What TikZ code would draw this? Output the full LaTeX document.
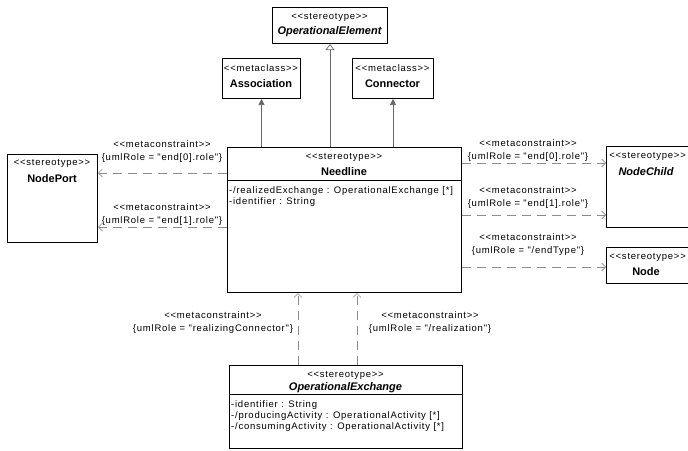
\documentclass[tikz,border=0pt]{standalone}
\usepackage{fontspec}
\setmainfont{Liberation Sans}
\newfontfamily\spacedfont{Liberation Sans}[LetterSpace=8]
\usetikzlibrary{arrows.meta,positioning}

\newcommand{\guil}[1]{<{}<#1>{}>}

\begin{document}
\begin{tikzpicture}[x=1pt, y=-1pt,
    every node/.style={inner sep=0pt, font=\spacedfont\fontsize{9.5}{10}\selectfont},
    box/.style={draw, line width=1pt, anchor=north west},
    stereo/.style={font=\spacedfont\fontsize{9.5}{10}\selectfont},
    title/.style={font=\fontsize{11}{12}\selectfont\bfseries},
    ititle/.style={font=\fontsize{11}{12}\selectfont\bfseries\itshape},
    attr/.style={anchor=west, font=\spacedfont\fontsize{9.5}{10}\selectfont},
    lab/.style={align=center, font=\spacedfont\fontsize{9.5}{13}\selectfont},
    link/.style={draw=black!60, line width=0.7pt},
    meta/.style={draw=black!45, line width=0.7pt, dash pattern=on 9pt off 6pt, -{Straight Barb[length=4pt, width=8pt]}},
    >=stealth]
    \useasboundingbox (0,0) rectangle (688,450);

    % boxes
    \node[box, minimum width=115pt, minimum height=36pt] (opelem) at (272,7) {};
    \node[stereo] (opelemS) at (329.5,17) {\guil{stereotype}};
    \node[ititle] (opelemN) at (329.5,32) {OperationalElement};

    \node[box, minimum width=78pt, minimum height=40pt] (assoc) at (222,58) {};
    \node[stereo] (assocS) at (261,68) {\guil{metaclass}};
    \node[title] (assocN) at (261,84) {Association};

    \node[box, minimum width=81pt, minimum height=40pt] (conn) at (352,58) {};
    \node[stereo] (connS) at (392.5,68) {\guil{metaclass}};
    \node[title] (connN) at (392.5,84) {Connector};

    \node[box, minimum width=234pt, minimum height=145pt] (need) at (227,147) {};
    \node[stereo] (needS) at (344,157) {\guil{stereotype}};
    \node[title] (needN) at (344,172) {Needline};
    \draw (need.west |- 0,180) -- (need.east |- 0,180);
    \node[attr] (needA1) at (229,191) {-/realizedExchange : OperationalExchange [*]};
    \node[attr] (needA2) at (229,202) {-identifier : String};

    \node[box, minimum width=90pt, minimum height=88pt] (nodeport) at (7,154) {};
    \node[stereo] (nodeportS) at (52,163) {\guil{stereotype}};
    \node[title] (nodeportN) at (52,179) {NodePort};

    \node[box, minimum width=92pt, minimum height=81pt] (nodechild) at (606,146) {};
    \node[stereo, anchor=east] (nodechildS) at (686,156) {\guil{stereotype}};
    \node[ititle] (nodechildN) at (646,172) {NodeChild};

    \node[box, minimum width=92pt, minimum height=36pt] (node) at (606,247) {};
    \node[stereo, anchor=east] (nodeS) at (686,257) {\guil{stereotype}};
    \node[title] (nodeN) at (646,272) {Node};

    \node[box, minimum width=233pt, minimum height=83pt] (opex) at (229,365) {};
    \node[stereo] (opexS) at (345.5,375) {\guil{stereotype}};
    \node[ititle] (opexN) at (345.5,388) {OperationalExchange};
    \draw (opex.west |- 0,394) -- (opex.east |- 0,394);
    \node[attr] (opexA1) at (231,405) {-identifier : String};
    \node[attr] (opexA2) at (231,416) {-/producingActivity : OperationalActivity [*]};
    \node[attr] (opexA3) at (231,427) {-/consumingActivity : OperationalActivity [*]};

    % connectors
    \draw[link, -{Triangle[open, length=6pt, width=9pt]}] (opelem.south |- need.north) -- (opelem.south);
    \draw[link, -{Triangle[length=6pt, width=6pt]}] (assoc.south |- need.north) -- (assoc.south);
    \draw[link, -{Triangle[length=6pt, width=6pt]}] (conn.south |- need.north) -- (conn.south);

    \coordinate (l1) at (0,173);
    \coordinate (l2) at (0,227);
    \coordinate (r1) at (0,163);
    \coordinate (r2) at (0,215);
    \coordinate (r3) at (0,267);
    \coordinate (b1) at (298,0);
    \coordinate (b2) at (357,0);
    \draw[meta] (need.west |- l1) -- (nodeport.east |- l1);
    \draw[meta] (need.west |- l2) -- (nodeport.east |- l2);
    \draw[meta] (need.east |- r1) -- (nodechild.west |- r1);
    \draw[meta] (need.east |- r2) -- (nodechild.west |- r2);
    \draw[meta] (need.east |- r3) -- (node.west |- r3);
    \draw[meta] (b1 |- opex.north) -- (b1 |- need.south);
    \draw[meta] (b2 |- opex.north) -- (b2 |- need.south);

    % labels
    \node[lab] (labL1) at (162,152) {\guil{metaconstraint}\\\{umlRole = "end[0].role"\}};
    \node[lab] (labL2) at (162,215) {\guil{metaconstraint}\\\{umlRole = "end[1].role"\}};
    \node[lab] (labR1) at (528,151) {\guil{metaconstraint}\\\{umlRole = "end[0].role"\}};
    \node[lab] (labR2) at (528,198) {\guil{metaconstraint}\\\{umlRole = "end[1].role"\}};
    \node[lab] (labR3) at (528,245) {\guil{metaconstraint}\\\{umlRole = "/endType"\}};
    \node[lab] (labB1) at (213,323) {\guil{metaconstraint}\\\{umlRole = "realizingConnector"\}};
    \node[lab] (labB2) at (430,323) {\guil{metaconstraint}\\\{umlRole = "/realization"\}};
\end{tikzpicture}
\end{document}
